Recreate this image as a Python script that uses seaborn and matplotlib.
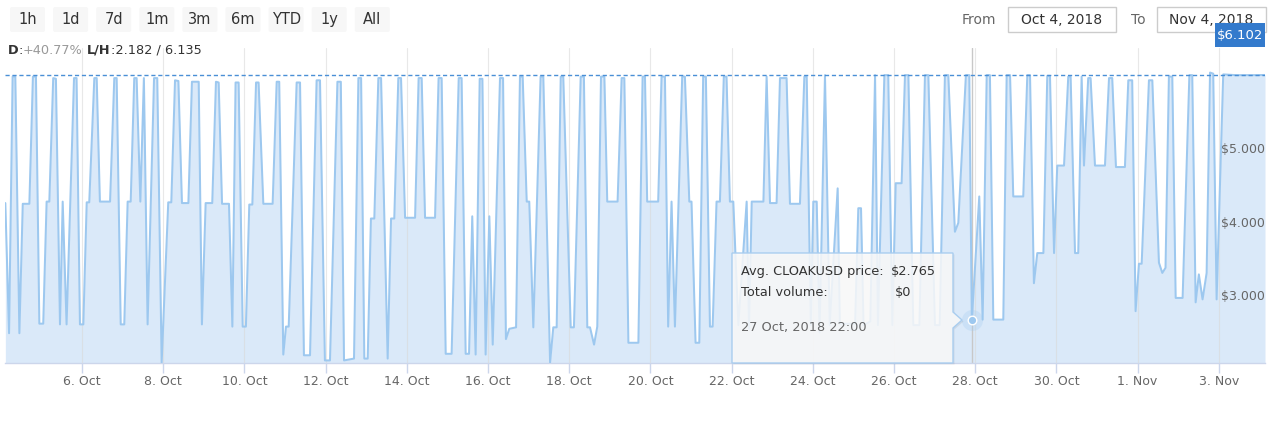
import numpy as np
import pandas as pd
import matplotlib
matplotlib.use("Agg")
import matplotlib.pyplot as plt
from matplotlib.patches import FancyBboxPatch, Rectangle, Polygon
import seaborn as sns

# ---------------- data ----------------
hours = [
    2.7, 4.9, 7.0, 8.6, 11.0, 13.0, 16.9, 19.0, 20.8, 22.8, 25.1, 27.1, 28.7, 31.0, 32.6,
    35.0, 36.6, 38.9, 43.3, 44.8, 46.8, 48.8, 50.8, 52.3, 55.3, 56.7, 58.6, 64.6, 67.1, 68.5,
    70.9, 73.0, 75.0, 76.8, 78.9, 80.3, 82.5, 84.6, 86.8, 90.6, 92.5, 95.1, 99.0, 100.8, 103.0,
    105.0, 107.1, 110.9, 113.0, 117.0, 118.9, 121.1, 125.0, 127.2, 128.8, 130.8, 134.9, 136.9, 138.8, 140.6,
    143.0, 144.9, 146.9, 148.7, 150.9, 152.4, 155.2, 160.7, 163.1, 164.6, 167.0, 168.6, 170.2, 174.9, 176.9,
    179.2, 182.8, 186.7, 188.7, 191.6, 194.6, 199.0, 201.0, 202.9, 208.8, 211.4, 213.0, 214.9, 216.9, 218.8,
    220.8, 223.2, 224.8, 228.7, 230.7, 232.6, 235.0, 236.6, 239.0, 244.9, 247.0, 248.8, 250.8, 256.7, 258.8,
    260.6, 263.0, 266.5, 270.7, 272.4, 274.8, 276.8, 278.7, 280.7, 283.1, 284.7, 286.6, 288.8, 290.8, 295.1,
    296.9, 298.6, 300.6, 304.6, 306.9, 308.5, 310.9, 312.4, 314.8, 319.1, 320.7, 324.7, 326.6, 328.6, 331.0,
    332.5, 336.9, 338.8, 342.8, 344.7, 346.7, 348.3, 350.7, 352.6, 354.8, 356.8, 358.5, 364.6, 367.0, 368.6,
    371.0, 376.9, 379.4, 380.8, 382.1, 388.6, 390.6, 392.6, 394.5, 396.5, 398.5, 402.8, 404.4, 407.0, 408.3,
    410.7, 412.9, 415.2, 416.8, 419.2, 420.8, 423.1, 425.1, 427.4, 429.0, 431.0, 433.0, 436.0, 440.9, 442.3,
    443.9, 450.8, 452.7, 454.7, 458.6, 460.6, 464.5, 466.5, 472.4, 475.0, 476.4, 478.8, 480.3, 482.3, 484.0,
    487.2, 490.0, 494.7, 496.0, 505.0, 506.9, 508.5, 510.0, 514.0, 516.8, 518.5, 522.3, 524.6, 527.0, 529.0,
    532.5, 534.5, 536.5, 539.4, 543.0, 546.3, 548.3, 552.2, 555.0, 558.1, 560.1, 564.0, 566.0, 570.5, 572.5,
    574.0, 578.4, 580.4, 582.8, 584.7, 586.7, 592.6, 594.6, 596.6, 598.5, 604.4, 606.8, 608.4, 610.7, 612.7,
    616.3, 618.6, 620.2, 622.6, 624.5, 628.5, 631.0, 632.4, 635.0, 636.9, 638.9, 640.3, 642.8, 644.2, 646.8,
    652.7, 655.1, 657.0, 659.2, 664.5, 666.5, 668.8, 670.8, 672.8, 674.4, 678.7, 680.7, 684.6, 686.6, 688.5,
    690.5, 692.5, 694.5, 698.6, 702.6, 704.3, 706.3, 708.2, 710.4, 712.8, 714.8, 716.7, 718.7, 722.6, 730.0,
    740.0, 747.3,
]
prices = [
    4.36, 2.59, 6.08, 6.08, 2.59, 4.35, 4.35, 6.08, 6.08, 2.72, 2.72, 4.38, 4.38, 6.06, 6.05,
    2.71, 4.38, 2.71, 6.06, 6.06, 2.71, 2.71, 4.37, 4.37, 6.06, 6.06, 4.38, 4.38, 6.06, 6.06,
    2.71, 2.71, 4.38, 4.38, 6.06, 6.06, 4.38, 6.06, 2.71, 6.06, 6.06, 2.19, 4.37, 4.37, 6.03,
    6.02, 4.36, 4.36, 6.01, 6.01, 2.71, 4.36, 4.36, 6.01, 6.00, 4.35, 4.35, 2.68, 6.00, 6.00,
    2.68, 2.68, 4.34, 4.34, 6.00, 6.00, 4.35, 4.35, 6.01, 6.01, 2.30, 2.68, 2.68, 6.00, 6.00,
    2.29, 2.29, 6.03, 6.03, 2.22, 2.22, 6.01, 6.01, 2.22, 2.245, 6.06, 6.06, 2.245, 2.245, 4.15,
    4.15, 6.06, 6.06, 2.245, 4.15, 4.15, 6.06, 6.06, 4.16, 4.16, 6.06, 6.06, 4.16, 4.16, 6.06,
    6.06, 2.31, 2.31, 6.06, 6.06, 2.31, 2.31, 4.18, 2.30, 6.05, 6.05, 2.30, 4.18, 2.435, 6.06,
    6.06, 2.51, 2.65, 2.67, 6.08, 6.08, 4.38, 4.38, 2.67, 6.08, 6.08, 2.19, 2.67, 2.67, 6.08,
    6.08, 2.67, 2.67, 6.08, 6.08, 2.67, 2.67, 2.435, 2.68, 6.08, 6.08, 4.38, 4.38, 6.06, 6.06,
    2.46, 2.46, 6.08, 6.08, 4.38, 4.38, 6.08, 6.08, 2.68, 4.38, 2.68, 6.08, 6.08, 4.38, 4.38,
    2.46, 2.46, 6.08, 6.08, 2.68, 2.68, 4.38, 4.38, 6.08, 6.08, 4.38, 4.38, 2.70, 4.38, 2.65,
    4.38, 4.38, 6.08, 4.36, 4.36, 6.06, 6.06, 4.35, 4.35, 6.08, 6.08, 2.70, 4.38, 4.38, 2.60,
    6.10, 2.70, 4.56, 2.72, 2.72, 4.29, 4.29, 2.70, 2.75, 6.10, 2.70, 6.10, 6.10, 2.70, 4.63,
    4.63, 6.10, 6.10, 2.70, 2.70, 6.10, 6.10, 2.70, 2.70, 6.10, 6.10, 3.97, 4.09, 6.10, 6.10,
    2.765, 4.45, 2.775, 6.10, 6.10, 2.775, 2.775, 6.10, 6.10, 4.45, 4.45, 6.10, 6.10, 3.27, 3.68,
    3.68, 6.09, 6.09, 3.68, 4.87, 4.87, 6.08, 6.08, 3.68, 3.68, 6.08, 4.87, 6.06, 6.06, 4.87,
    4.87, 6.06, 6.06, 4.85, 4.85, 6.03, 6.03, 2.89, 3.535, 3.535, 6.03, 6.03, 3.55, 3.41, 3.48,
    6.08, 6.08, 3.07, 3.07, 6.10, 6.10, 3.01, 3.39, 3.05, 3.41, 6.135, 6.12, 3.05, 6.11, 6.10,
    6.10, 6.102,
]
x_tick_dates = ["2018-10-06", "2018-10-08", "2018-10-10", "2018-10-12", "2018-10-14",
                "2018-10-16", "2018-10-18", "2018-10-20", "2018-10-22", "2018-10-24",
                "2018-10-26", "2018-10-28", "2018-10-30", "2018-11-01", "2018-11-03"]
x_tick_labels = ["6. Oct", "8. Oct", "10. Oct", "12. Oct", "14. Oct", "16. Oct", "18. Oct",
                 "20. Oct", "22. Oct", "24. Oct", "26. Oct", "28. Oct", "30. Oct", "1. Nov", "3. Nov"]
y_ticks = [3, 4, 5]
y_tick_labels = ["$3.000", "$4.000", "$5.000"]
range_buttons = ["1h", "1d", "7d", "1m", "3m", "6m", "YTD", "1y", "All"]
last_price = 6.102
change_text = "+40.77%"
low_high_text = ":2.182 / 6.135"
from_date, to_date = "Oct 4, 2018", "Nov 4, 2018"
tooltip_time = "2018-10-27 22:00"
tooltip_price = 2.765
tooltip_lines = ["Avg. CLOAKUSD price:", "Total volume:"]
tooltip_values = ["$2.765", "$0"]
tooltip_date = "27 Oct, 2018 22:00"

assert len(hours) == len(prices)

# ---------------- style ----------------
sns.set_theme(style="white")
plt.rcParams["font.family"] = ["DejaVu Sans"]
plt.rcParams["text.parse_math"] = False

LINE = "#9dc8ef"
FILL = "#dae9f9"
TXT = "#333333"
GREY = "#666666"

start = pd.Timestamp("2018-10-04")
df = pd.DataFrame({"time": start + pd.to_timedelta(hours, unit="h"), "price": prices})

W, H = 1280, 423
fig = plt.figure(figsize=(12.8, 4.23), dpi=100)
ax = fig.add_axes([5 / W, (H - 363) / H, 1260 / W, (363 - 48) / H])

y0 = 2.185
ax.fill_between(df["time"], df["price"], y0, color=FILL, lw=0, zorder=1)
sns.lineplot(data=df, x="time", y="price", ax=ax, color=LINE, lw=1.45, zorder=3)
ax.axhline(last_price, color="#4a8fd6", lw=1.0, ls=(0, (3, 2)), zorder=4)

tt = pd.Timestamp(tooltip_time)
ax.axvline(tt, color="#c8c8c8", lw=1.0, zorder=2)
ax.scatter([tt], [tooltip_price], s=230, color=LINE, alpha=0.25, lw=0, zorder=5)
ax.scatter([tt], [tooltip_price], s=38, color=LINE, edgecolor="white", lw=1.0, zorder=6)

ax.set_xlim(start + pd.Timedelta(hours=2.5), start + pd.Timedelta(hours=747.3))
ax.set_ylim(y0, 6.469)
ax.set_xlabel("")
ax.set_ylabel("")

ax.set_xticks(pd.to_datetime(x_tick_dates))
ax.set_xticklabels(x_tick_labels)
ax.tick_params(axis="x", length=7, width=1, color="#ccd6eb", labelsize=9,
               labelcolor=GREY, pad=1.5, bottom=True)
ax.grid(axis="x", color="#d9d9d9", lw=0.8, alpha=0.6)
ax.grid(axis="y", visible=False)
ax.set_axisbelow(False)

ax.yaxis.tick_right()
ax.set_yticks(y_ticks)
ax.set_yticklabels(y_tick_labels)
ax.tick_params(axis="y", length=0, pad=0, labelsize=9, labelcolor=GREY)
for t in ax.get_yticklabels():
    t.set_ha("right")
    t.set_va("bottom")

for s in ["left", "top", "right"]:
    ax.spines[s].set_visible(False)
ax.spines["bottom"].set_color("#ccd6eb")
ax.spines["bottom"].set_linewidth(1.0)
ax.patch.set_alpha(0)

# ---------------- overlay (UI) in pixel coords ----------------
ov = fig.add_axes([0, 0, 1, 1])
ov.set_xlim(0, W)
ov.set_ylim(H, 0)
ov.axis("off")
ov.patch.set_alpha(0)

for i, lab in enumerate(range_buttons):
    x = 10 + i * 43.1
    ov.add_patch(FancyBboxPatch((x, 7), 35, 25, boxstyle="round,pad=0,rounding_size=2",
                                fc="#f7f7f7", ec="none"))
    ov.text(x + 17.5, 19.5, lab, ha="center", va="center", fontsize=10.5, color=TXT)

ov.text(8, 50, "D", ha="left", va="center", fontsize=9.3, color=TXT, fontweight="bold")
ov.text(19, 50, ":", ha="left", va="center", fontsize=9.3, color=TXT)
ov.text(23, 50, change_text, ha="left", va="center", fontsize=9.3, color="#999999")
ov.text(87, 50, "L/H", ha="left", va="center", fontsize=9.3, color=TXT, fontweight="bold")
ov.text(111, 50, low_high_text, ha="left", va="center", fontsize=9.3, color=TXT)

ov.text(962, 19.5, "From", ha="left", va="center", fontsize=10, color=GREY)
ov.add_patch(Rectangle((1008, 7), 108, 25, fc="white", ec="#cccccc", lw=1))
ov.text(1062, 19.5, from_date, ha="center", va="center", fontsize=10, color=TXT)
ov.text(1131, 19.5, "To", ha="left", va="center", fontsize=10, color=GREY)
ov.add_patch(Rectangle((1157, 7), 109, 25, fc="white", ec="#cccccc", lw=1))
ov.text(1211, 19.5, to_date, ha="center", va="center", fontsize=10, color=TXT)

ov.add_patch(Rectangle((1215, 23), 50, 24, fc="#337acc", ec="none", zorder=5))
ov.text(1240, 35.5, "$%.3f" % last_price, ha="center", va="center", fontsize=9.5,
        color="white", zorder=6)

# tooltip
bx0, bx1, by0, by1 = 732, 953, 253, 363
poly = [(bx0, by0), (bx1, by0), (bx1, 312), (962, 320), (bx1, 328), (bx1, by1), (bx0, by1)]
shadow = [(x + 1.5, y + 1.5) for x, y in poly]
ov.add_patch(Polygon(shadow, closed=True, fc="black", alpha=0.07, ec="none", zorder=7))
ov.add_patch(Polygon(poly, closed=True, fc="#fbfbfb", alpha=0.85, ec="none", zorder=8))
ov.add_patch(Polygon(poly, closed=True, fill=False, ec="#a9cdef", lw=1, zorder=9))
fs_tt = 9.3
ov.text(741, 271.5, tooltip_lines[0], ha="left", va="center", fontsize=fs_tt, color=TXT, zorder=10)
ov.text(891, 271.5, tooltip_values[0], ha="left", va="center", fontsize=fs_tt, color=TXT, zorder=10)
ov.text(741, 292, tooltip_lines[1], ha="left", va="center", fontsize=fs_tt, color=TXT, zorder=10)
ov.text(895, 292, tooltip_values[1], ha="left", va="center", fontsize=fs_tt, color=TXT, zorder=10)
ov.text(741, 327, tooltip_date, ha="left", va="center", fontsize=fs_tt, color=GREY, zorder=10)

fig.savefig("out.png", dpi=100)
